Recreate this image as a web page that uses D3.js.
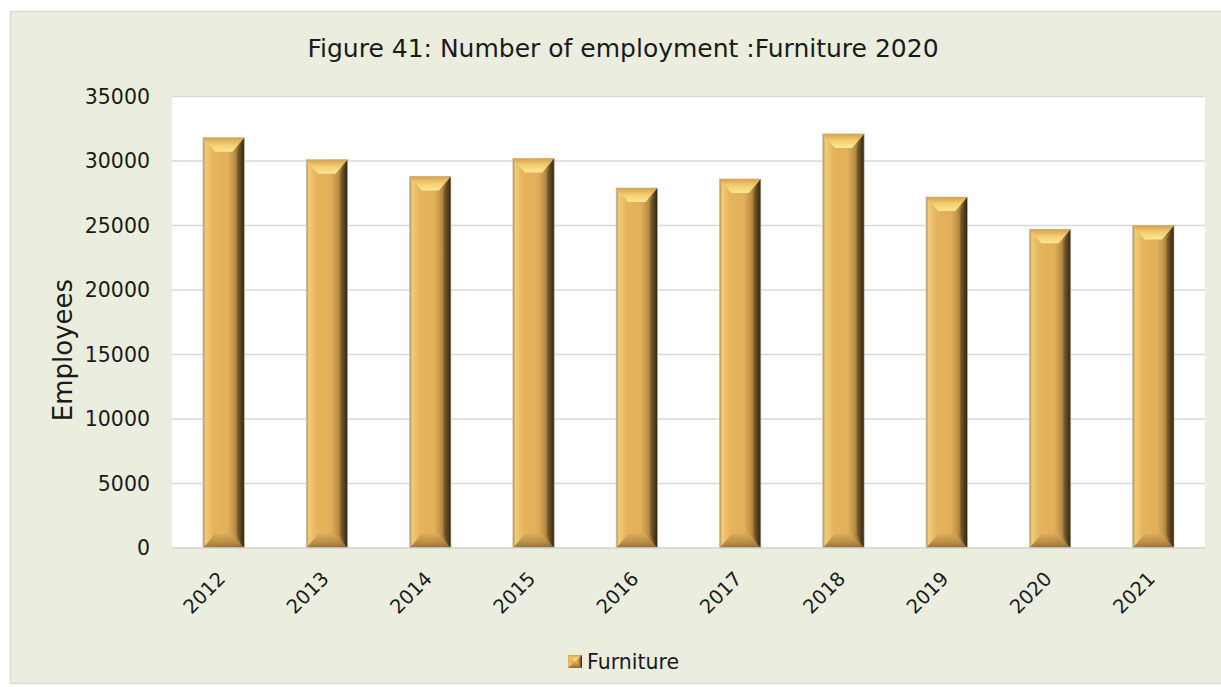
<!DOCTYPE html>
<html><head><meta charset="utf-8">
<script src="https://cdn.jsdelivr.net/npm/d3@7"></script>
<style>html,body{margin:0;padding:0;background:#fff;}svg{display:block;}</style>
</head><body>
<svg id="chart" width="1221" height="687"></svg>
<script>
const years = ["2012","2013","2014","2015","2016","2017","2018","2019","2020","2021"];
const employees = [31800, 30100, 28800, 30200, 27900, 28600, 32100, 27200, 24700, 25000];
const yTicks = [0, 5000, 10000, 15000, 20000, 25000, 30000, 35000];
const seriesName = "Furniture";
const titleText = "Figure 41: Number of employment :Furniture 2020";
const yLabel = "Employees";

const FONT = "'DejaVu Sans', Verdana, sans-serif";
const svg = d3.select("#chart");
const defs = svg.append("defs");

// gradients
const gSide = defs.append("linearGradient").attr("id","gSide").attr("x1","0").attr("x2","1").attr("y1","0").attr("y2","0");
[[0,"#a98a50"],[0.06,"#f2cb78"],[0.25,"#e6b45c"],[0.6,"#e2b05a"],[0.78,"#b88d45"],[0.9,"#6e5427"],[1,"#2e2414"]]
  .forEach(([o,c])=>gSide.append("stop").attr("offset",o).attr("stop-color",c));
const gTop = defs.append("linearGradient").attr("id","gTop").attr("x1","0").attr("x2","0").attr("y1","0").attr("y2","1");
[[0,"#d6a24c"],[0.5,"#f3cf73"],[1,"#ffe894"]].forEach(([o,c])=>gTop.append("stop").attr("offset",o).attr("stop-color",c));
const gBot = defs.append("linearGradient").attr("id","gBot").attr("x1","0").attr("x2","0").attr("y1","0").attr("y2","1");
[[0,"#d9a957"],[0.6,"#b68a45"],[1,"#8a6a32"]].forEach(([o,c])=>gBot.append("stop").attr("offset",o).attr("stop-color",c));

// background
svg.append("rect").attr("x",10.5).attr("y",11.5).attr("width",1215).attr("height",672)
  .attr("fill","#ebeedf").attr("stroke","#d9d9d9").attr("stroke-width",1.5);

const plot = {left:172, top:96.5, right:1205, bottom:548};
svg.append("rect").attr("x",plot.left).attr("y",plot.top).attr("width",plot.right-plot.left).attr("height",plot.bottom-plot.top).attr("fill","#fff");

const x = d3.scaleBand().domain(years).range([plot.left, plot.right]).paddingInner(0.6).paddingOuter(0.3);
const y = d3.scaleLinear().domain([0,35000]).range([plot.bottom, plot.top]);

// grid
svg.append("g").selectAll("line").data(yTicks).join("line")
  .attr("x1",plot.left).attr("x2",plot.right)
  .attr("y1",d=>y(d)).attr("y2",d=>y(d))
  .attr("stroke","#d9d9d9").attr("stroke-width",1.5);

// y axis
const yAxis = svg.append("g").attr("transform",`translate(${plot.left},0)`)
  .call(d3.axisLeft(y).tickValues(yTicks).tickSize(0).tickPadding(22).tickFormat(d3.format("d")));
yAxis.select(".domain").remove();
yAxis.selectAll("text").attr("font-family",FONT).attr("font-size",20.5).attr("fill","#1a1a1a");

// x axis
const xAxis = svg.append("g").attr("transform",`translate(0,${plot.bottom})`)
  .call(d3.axisBottom(x).tickSize(0).tickPadding(0));
xAxis.select(".domain").remove();
xAxis.selectAll("text").attr("font-family",FONT).attr("font-size",19.5).attr("fill","#1a1a1a")
  .attr("text-anchor","end").attr("dy",0)
  .attr("transform","translate(3,32) rotate(-45)");

// bars
const bw = x.bandwidth();
const bev = Math.min(12, bw*0.3), bevV = 14;
const bars = svg.append("g").selectAll("g").data(employees).join("g")
  .attr("transform",(d,i)=>`translate(${x(years[i])},${y(d)})`);
bars.append("rect").attr("width",bw).attr("height",d=>plot.bottom-y(d)).attr("fill","url(#gSide)")
  .attr("stroke","#c9c2b0").attr("stroke-width",0.8);
bars.append("path").attr("d",`M0,0 L${bw},0 L${bw-bev},${bevV} L${bev},${bevV} Z`).attr("fill","url(#gTop)");
bars.append("path").attr("d",d=>{const h=plot.bottom-y(d);return `M0,${h} L${bw},${h} L${bw-bev},${h-bevV} L${bev},${h-bevV} Z`;})
  .attr("fill","url(#gBot)").attr("opacity",0.9);
bars.append("path").attr("d",d=>{const h=plot.bottom-y(d);return `M${bw},0 L${bw},${h} L${bw-bev*0.6},${h-bevV} L${bw-bev*0.6},${bevV} Z`;})
  .attr("fill","#2e2414").attr("opacity",0.25);

// bottom axis line
svg.append("line").attr("x1",plot.left).attr("x2",plot.right).attr("y1",plot.bottom).attr("y2",plot.bottom)
  .attr("stroke","#d9d9d9").attr("stroke-width",1.5);

// title
svg.append("text").attr("x",623).attr("y",57).attr("text-anchor","middle")
  .attr("font-family",FONT).attr("font-size",25).attr("fill","#1a1a1a").text(titleText);

// y label
svg.append("text").attr("transform","translate(72,350) rotate(-90)").attr("text-anchor","middle")
  .attr("font-family",FONT).attr("font-size",26).attr("fill","#1a1a1a").text(yLabel);

// legend
const lg = svg.append("g").attr("transform","translate(568,655)");
lg.append("rect").attr("width",14).attr("height",13).attr("fill","url(#gSide)");
lg.append("path").attr("d","M0,0 L14,0 L7,6.5 Z").attr("fill","url(#gTop)");
lg.append("path").attr("d","M0,13 L14,13 L7,6.5 Z").attr("fill","url(#gBot)");
lg.append("text").attr("x",19).attr("y",13.5).attr("font-family",FONT).attr("font-size",20.5).attr("fill","#1a1a1a").text(seriesName);
</script>
</body></html>
